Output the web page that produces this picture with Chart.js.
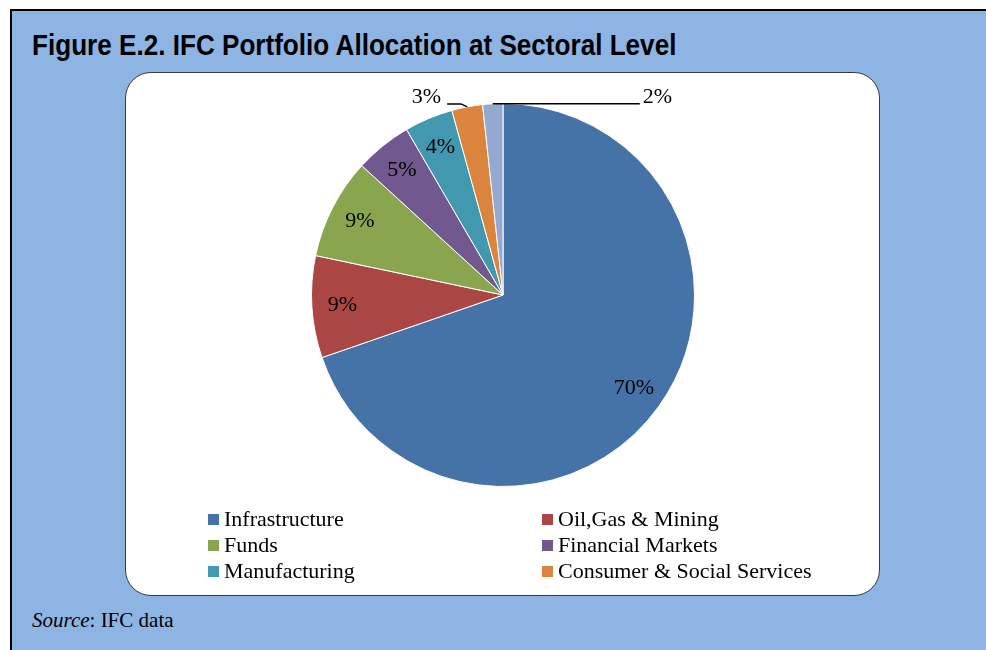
<!DOCTYPE html>
<html><head><meta charset="utf-8">
<script src="https://cdn.jsdelivr.net/npm/chart.js@4/dist/chart.umd.min.js"></script>
<style>
html,body{margin:0;padding:0;width:986px;height:650px;overflow:hidden;background:#fff;}
#frame{position:absolute;left:10px;top:9px;width:976px;height:641px;background:#8EB4E3;border-top:2px solid #000;border-left:2px solid #000;}
#title{position:absolute;left:32px;top:30.5px;line-height:29px;font-weight:bold;font-size:29px;font-family:"Liberation Sans","Arial",sans-serif;color:#000;white-space:nowrap;transform:scaleX(0.9);transform-origin:0 0;}
#box{position:absolute;left:125px;top:72px;width:753px;height:522px;background:#fff;border:1.5px solid #3a3a3a;border-radius:26px;}
#source{position:absolute;left:32px;top:610px;line-height:21px;font-size:21px;font-family:"Liberation Serif",serif;color:#000;white-space:nowrap;}
#c{position:absolute;left:0;top:0;}
</style></head>
<body>
<div id="frame"></div>
<div id="title">Figure E.2. IFC Portfolio Allocation at Sectoral Level</div>
<div id="box"></div>
<div id="source"><i>Source</i>: IFC data</div>
<canvas id="c" width="986" height="650"></canvas>
<script>
const categories = ['Infrastructure','Oil,Gas & Mining','Funds','Financial Markets','Manufacturing','Consumer & Social Services','Other'];
const shares = [69.7, 8.6, 8.5, 4.8, 4.1, 2.6, 1.7];
const sliceColors = ['#4572A7','#AA4643','#89A54E','#71588F','#4198AF','#DB843D','#93A9CF'];
const inLegend = [true,true,true,true,true,true,false];
const labelPlacement = ['in','in','in','in','in','left','right'];

const serif = '"Liberation Serif", serif';

const labelPlugin = {
  id:'pieLabels',
  afterDatasetsDraw(chart){
    const ctx = chart.ctx;
    const meta = chart.getDatasetMeta(0);
    ctx.save();
    ctx.font = '22px ' + serif;
    ctx.fillStyle = '#000';
    ctx.strokeStyle = '#000';
    ctx.lineWidth = 1.5;
    meta.data.forEach((arc,i)=>{
      const p = arc.getProps(['x','y','startAngle','endAngle','outerRadius'], true);
      const mid = (p.startAngle + p.endAngle)/2;
      const txt = Math.round(shares[i]) + '%';
      const mode = labelPlacement[i];
      if(mode === 'in'){
        const r = p.outerRadius*0.84;
        ctx.textAlign='center'; ctx.textBaseline='middle';
        ctx.fillText(txt, p.x+Math.cos(mid)*r, p.y+Math.sin(mid)*r);
      } else {
        const ex = p.x+Math.cos(mid)*p.outerRadius, ey = p.y+Math.sin(mid)*p.outerRadius;
        ctx.beginPath();
        if(mode==='left'){
          ctx.moveTo(ex,ey); ctx.lineTo(ex-6,ey-3); ctx.lineTo(ex-20,ey-3); ctx.stroke();
          ctx.textAlign='right'; ctx.textBaseline='middle';
          ctx.fillText(txt, ex-26, ey-10);
        } else {
          ctx.moveTo(ex,ey); ctx.lineTo(ex+147,ey); ctx.stroke();
          ctx.textAlign='left'; ctx.textBaseline='middle';
          ctx.fillText(txt, ex+150, ey-7);
        }
      }
    });
    // legend
    const colX = [208, 542], rowY = [520, 546, 572];
    ctx.font = '22px ' + serif;
    ctx.textAlign='left'; ctx.textBaseline='middle';
    let k = 0;
    categories.forEach((lab,i)=>{
      if(!inLegend[i]) return;
      const cx = colX[k%2], cy = rowY[Math.floor(k/2)];
      ctx.fillStyle = sliceColors[i];
      ctx.fillRect(cx, cy-6, 11, 11);
      ctx.fillStyle = '#000';
      ctx.fillText(lab, cx+16, cy);
      k++;
    });
    ctx.restore();
  }
};

new Chart(document.getElementById('c'), {
  type:'pie',
  data:{ labels:categories, datasets:[{ data:shares, backgroundColor:sliceColors, borderColor:'#ffffff', borderWidth:1 }] },
  options:{
    responsive:false, animation:false,
    layout:{ padding:{ left:311, right:291, top:103, bottom:163 } },
    plugins:{ legend:{display:false}, tooltip:{enabled:false} }
  },
  plugins:[labelPlugin]
});
</script>
</body></html>
